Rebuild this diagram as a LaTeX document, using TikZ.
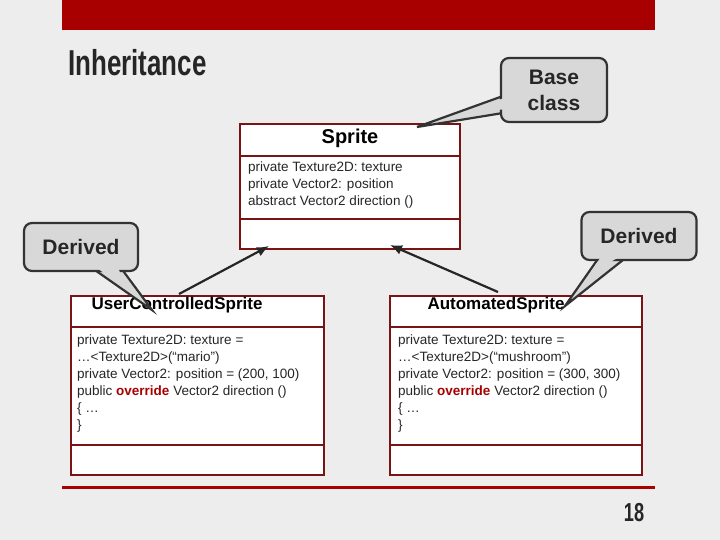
\documentclass[tikz,border=0pt]{standalone}
\usepackage{fontspec}
\usetikzlibrary{arrows.meta}
\setmainfont{Liberation Sans}
\begin{document}
\begin{tikzpicture}[x=1pt,y=-1pt,
  box/.style={draw=boxred,line width=2pt},
  body/.style={anchor=north west,align=left,font=\fontsize{13.5}{17}\selectfont,inner sep=0pt,text=black!85},
  call/.style={draw=black!80,fill=callgray,line width=2.2pt,rounded corners=8pt},
  calltxt/.style={font=\bfseries\fontsize{21}{26}\selectfont,align=center,text=black!85},
  inh/.style={-{Latex[length=12pt,width=10pt]},line width=2.2pt,black!85}]
\definecolor{boxred}{HTML}{7A1414}
\definecolor{barred}{HTML}{A80000}
\definecolor{callgray}{HTML}{D8D8D8}
\definecolor{ovr}{HTML}{A80000}
\useasboundingbox (0,0) rectangle (720,540);
\fill[black!7] (0,0) rectangle (720,540);
\fill[barred] (62,0) rectangle (655,30);
\node[anchor=west,inner sep=0pt,font=\bfseries\fontsize{36}{36}\selectfont,xscale=0.72,text=black!85] (title) at (68,63) {Inheritance};
\draw[barred,line width=3pt] (62,487) -- (655,487);
\node[font=\bfseries\fontsize{26}{26}\selectfont,xscale=0.7,text=black!85] (pg) at (634,513) {18};
% Sprite
\draw[box,fill=white] (240,124) rectangle (460,249);
\draw[box] (240,156) -- (460,156) (240,219) -- (460,219);
\node[font=\bfseries\fontsize{20}{20}\selectfont] (sprite) at (350,138) {Sprite};
\node[body] (sb) at (248,162) {private Texture2D: texture\\private Vector2: position\\abstract Vector2 direction ()};
\coordinate (st1) at (269,246);
\coordinate (st2) at (390,245);
% Left
\draw[box,fill=white] (71,296) rectangle (324,475);
\draw[box] (71,327) -- (324,327) (71,445) -- (324,445);
\node[anchor=west,font=\bfseries\fontsize{17}{17}\selectfont] (ucs) at (88,305) {UserControlledSprite};
\node[body] (ub) at (77,335) {private Texture2D: texture =\\\ldots<Texture2D>(“mario")\\private Vector2: position = (200, 100)\\public \textcolor{ovr}{\bfseries override} Vector2 direction ()\\\{ \ldots\\\}};
\coordinate (u0) at (179,294);
% Right
\draw[box,fill=white] (390,296) rectangle (642,475);
\draw[box] (390,327) -- (642,327) (390,445) -- (642,445);
\node[anchor=west,font=\bfseries\fontsize{17}{17}\selectfont] (as) at (424,305) {AutomatedSprite};
\node[body] (ab) at (398,335) {private Texture2D: texture =\\\ldots<Texture2D>(“mushroom")\\private Vector2: position = (300, 300)\\public \textcolor{ovr}{\bfseries override} Vector2 direction ()\\\{ \ldots\\\}};
\coordinate (a0) at (498,292);
\draw[inh] (u0) -- (st1);
\draw[inh] (a0) -- (st2);
% callouts
\draw[call,rounded corners=0pt] (503,96) -- (417,127) -- (503,113) -- cycle;
\node[call,minimum width=106pt,minimum height=64pt,calltxt] (base) at (554,90) {Base\\class};
\fill[callgray] (507,97) -- (460,114) -- (507,109) -- cycle;
\draw[call,rounded corners=0pt] (92,268) -- (152,310) -- (121,268) -- cycle;
\node[call,minimum width=114pt,minimum height=48pt,calltxt] (dl) at (81,247) {Derived};
\fill[callgray] (94,266) -- (124,287) -- (118,266) -- cycle;
\draw[call,rounded corners=0pt] (600,256) -- (565,306) -- (628,256) -- cycle;
\node[call,minimum width=115pt,minimum height=48pt,calltxt] (dr) at (639,236) {Derived};
\fill[callgray] (603,254) -- (590,273) -- (625,254) -- cycle;
\end{tikzpicture}
\end{document}
